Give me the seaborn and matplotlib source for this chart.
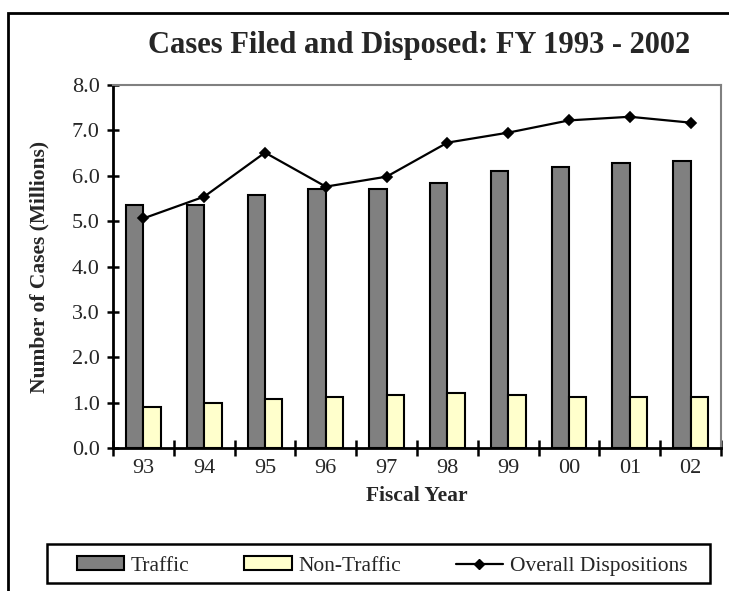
import matplotlib
matplotlib.use("Agg")
import matplotlib.pyplot as plt
import seaborn as sns
import pandas as pd
from matplotlib.patches import Patch, Rectangle
from matplotlib.lines import Line2D
from matplotlib.ticker import FixedLocator, FormatStrFormatter

years = ["93", "94", "95", "96", "97", "98", "99", "00", "01", "02"]
traffic = [5.35, 5.35, 5.57, 5.70, 5.70, 5.84, 6.10, 6.19, 6.28, 6.32]
non_traffic = [0.90, 0.99, 1.08, 1.12, 1.17, 1.21, 1.17, 1.12, 1.12, 1.12]
overall = [5.06, 5.54, 6.51, 5.76, 5.98, 6.73, 6.95, 7.22, 7.30, 7.17]
series_names = ["Traffic", "Non-Traffic", "Overall Dispositions"]
bar_colors = ["#808080", "#FFFFCC"]

sns.set_theme(style="white")
plt.rcParams['font.family'] = ['Liberation Serif', 'DejaVu Serif']

df = pd.DataFrame({
    "year": years * 2,
    "value": traffic + non_traffic,
    "series": [series_names[0]] * len(years) + [series_names[1]] * len(years),
})

fig = plt.figure(figsize=(7.29, 5.91), dpi=100)
ax = fig.add_axes([113 / 729, 1 - 448 / 591, (721 - 113) / 729, (448 - 85) / 591])

sns.barplot(data=df, x="year", y="value", hue="series", order=years,
            hue_order=series_names[:2], palette=bar_colors, width=0.57,
            edgecolor="black", linewidth=1.5, saturation=1, legend=False, ax=ax)
sns.pointplot(x=years, y=overall, order=years, color="black", markers="D",
              markersize=5, linewidth=1.6, ax=ax)

ax.set_xlim(-0.5, len(years) - 0.5)
ax.set_ylim(0, 8)
ax.yaxis.set_major_locator(FixedLocator([0, 1, 2, 3, 4, 5, 6, 7, 8]))
ax.yaxis.set_major_formatter(FormatStrFormatter("%.1f"))
ax.set_xticks(range(len(years)))
ax.set_xticklabels(years)
ax.xaxis.set_minor_locator(FixedLocator([i - 0.5 for i in range(len(years) + 1)]))
ax.tick_params(axis="x", which="major", length=0, pad=8, labelsize=16)
ax.tick_params(axis="x", which="minor", length=12, width=1.8, direction="inout",
               bottom=True, color="black")
ax.tick_params(axis="y", which="major", length=9, width=1.8, direction="inout",
               left=True, labelsize=16, pad=5, color="black")

for s in ["left", "bottom"]:
    ax.spines[s].set_color("black")
    ax.spines[s].set_linewidth(2)
for s in ["top", "right"]:
    ax.spines[s].set_visible(True)
    ax.spines[s].set_color("#808080")
    ax.spines[s].set_linewidth(1.5)

ax.set_xlabel("Fiscal Year", fontsize=15.5, fontweight="bold", labelpad=6)
ax.set_ylabel("Number of Cases (Millions)", fontsize=15.5, fontweight="bold", labelpad=16)
fig.text(419 / 729, 1 - 46 / 591, "Cases Filed and Disposed: FY 1993 - 2002",
         ha="center", va="center", fontsize=22, fontweight="bold")

handles = [
    Patch(facecolor=bar_colors[0], edgecolor="black", linewidth=1.5),
    Patch(facecolor=bar_colors[1], edgecolor="black", linewidth=1.5),
    Line2D([0], [0], color="black", marker="D", markersize=5, linewidth=1.6),
]
leg = fig.legend(handles, series_names, loc="center",
                 bbox_to_anchor=(382 / 729, 1 - 566 / 591),
                 ncol=3, frameon=False, fontsize=15.5,
                 handlelength=2.2, handleheight=0.6, handletextpad=0.3,
                 columnspacing=2.55)

fig.patches.append(Rectangle((47 / 729, 1 - 583 / 591), (710 - 47) / 729, 39 / 591,
                             transform=fig.transFigure, fill=False,
                             edgecolor="black", linewidth=1.8))
fig.patches.append(Rectangle((8 / 729, -0.1), 1.2, 1 - 13 / 591 + 0.1,
                             transform=fig.transFigure, fill=False,
                             edgecolor="black", linewidth=2))

fig.savefig("out.png", dpi=100)
